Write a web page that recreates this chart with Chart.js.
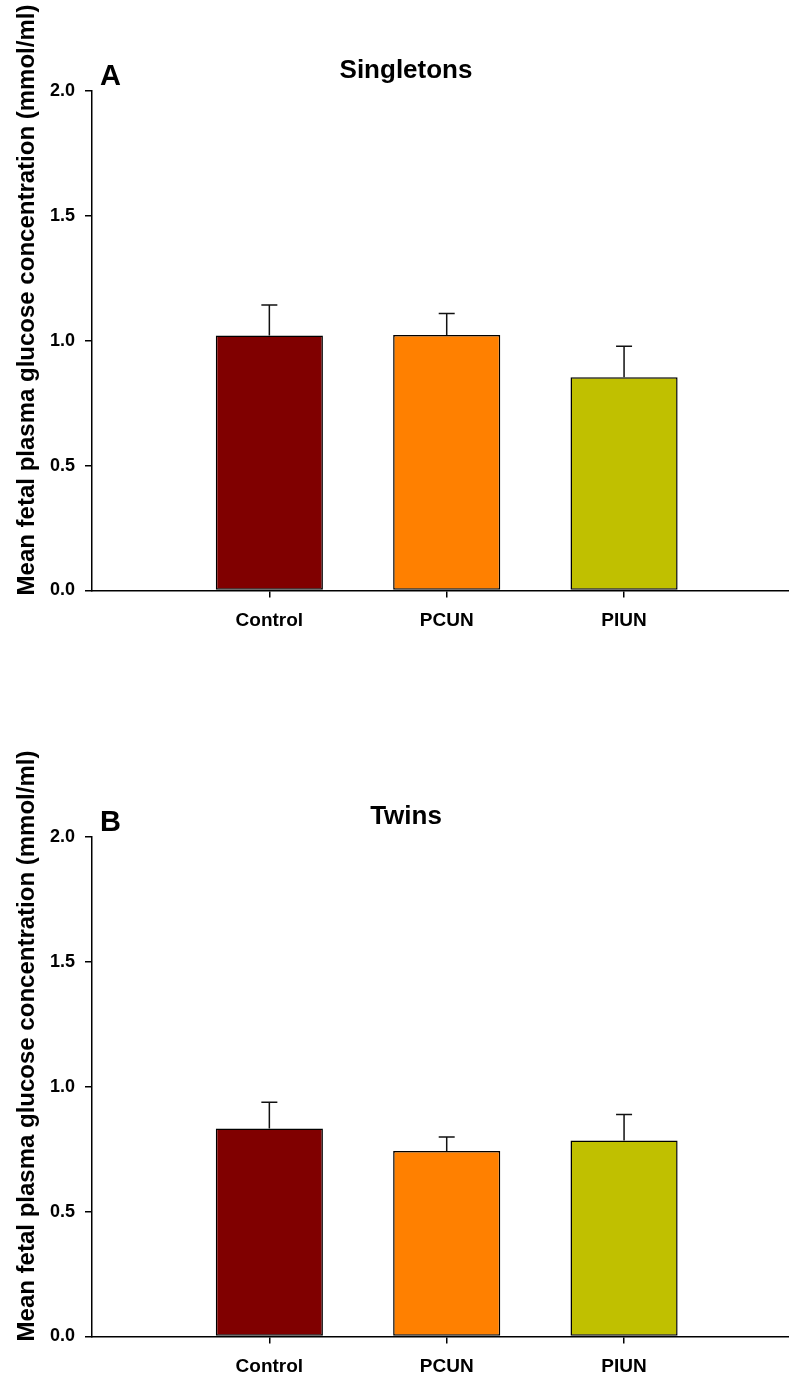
<!DOCTYPE html>
<html>
<head>
<meta charset="utf-8">
<title>Mean fetal plasma glucose concentration</title>
<script src="https://cdn.jsdelivr.net/npm/chart.js@4.4.1/dist/chart.umd.min.js"></script>
<style>
  html, body { margin: 0; padding: 0; background: #fff; }
  canvas { display: block; }
</style>
</head>
<body>
<canvas id="singletons" width="789" height="688"></canvas>
<canvas id="twins" width="789" height="688"></canvas>
<script>
// Treatment groups and their colours
const categories = ['Control', 'PCUN', 'PIUN'];
const groupColors = ['#800000', '#FF8000', '#C0C000'];

// Panel A: singletons (mean and SEM, mmol/ml)
const singletonMeans = [1.02, 1.022, 0.853];
const singletonSEM = [0.122, 0.086, 0.124];

// Panel B: twins (mean and SEM, mmol/ml)
const twinMeans = [0.832, 0.742, 0.784];
const twinSEM = [0.105, 0.056, 0.104];

// Y axis tick values
const yTicks = [0, 0.5, 1.0, 1.5, 2.0];

const yTitle = 'Mean fetal plasma glucose concentration (mmol/ml)';
const FONT = "Arial, 'Liberation Sans', sans-serif";

// Upper error whiskers with a cap
const errorBars = {
  id: 'errorBars',
  afterDatasetsDraw(chart, args, opts) {
    const ctx = chart.ctx;
    const y = chart.scales.y;
    const meta = chart.getDatasetMeta(0);
    const ds = chart.data.datasets[0];
    ctx.save();
    ctx.strokeStyle = '#111';
    ctx.lineWidth = 1.5;
    meta.data.forEach((bar, i) => {
      const v = ds.data[i].y;
      const top = y.getPixelForValue(v + opts.errors[i]);
      ctx.beginPath();
      ctx.moveTo(bar.x, bar.y);
      ctx.lineTo(bar.x, top);
      ctx.moveTo(bar.x - 8, top);
      ctx.lineTo(bar.x + 8, top);
      ctx.stroke();
    });
    ctx.restore();
  }
};

// Panel letter, panel title and rotated y-axis title
const panelText = {
  id: 'panelText',
  afterDraw(chart, args, opts) {
    const ctx = chart.ctx;
    const area = chart.chartArea;
    ctx.save();
    ctx.fillStyle = '#000';
    ctx.textBaseline = 'alphabetic';
    ctx.font = 'bold 29px ' + FONT;
    ctx.textAlign = 'left';
    ctx.fillText(opts.letter, 100, area.top - 5.5);
    ctx.font = 'bold 26px ' + FONT;
    ctx.textAlign = 'center';
    ctx.fillText(opts.title, 406, area.top - 12.5);
    ctx.translate(34, area.bottom - 290.5);
    ctx.rotate(-Math.PI / 2);
    ctx.font = 'bold 24px ' + FONT;
    ctx.fillText(yTitle, 0, 0);
    ctx.restore();
  }
};

function makeChart(id, letter, title, means, sems, topPad) {
  const xAxisHeight = 688 - topPad - 499.8;
  return new Chart(document.getElementById(id), {
    type: 'bar',
    data: {
      datasets: [{
        data: categories.map((c, i) => ({ x: i + 1, y: means[i] })),
        backgroundColor: groupColors,
        borderColor: '#000',
        borderWidth: 1.5,
        borderSkipped: false,
        categoryPercentage: 1,
        barPercentage: 0.604
      }]
    },
    options: {
      responsive: false,
      animation: false,
      devicePixelRatio: 1,
      layout: { padding: { top: topPad, left: 0, right: 0, bottom: 0 } },
      plugins: {
        legend: { display: false },
        tooltip: { enabled: false },
        errorBars: { errors: sems },
        panelText: { letter, title }
      },
      scales: {
        x: {
          type: 'linear',
          offset: false,
          min: 0,
          max: 3.93,
          afterBuildTicks(scale) {
            scale.ticks = categories.map((c, i) => ({ value: i + 1 }));
          },
          afterFit(scale) { scale.height = xAxisHeight; },
          ticks: {
            callback: (v) => categories[v - 1],
            color: '#000',
            font: { family: FONT, size: 19, weight: 'bold' },
            padding: 12,
            maxRotation: 0
          },
          grid: {
            offset: false,
            drawOnChartArea: false,
            drawTicks: true,
            tickLength: 7,
            color: '#000',
            lineWidth: 1.5
          },
          border: { display: true, color: '#000', width: 1.5 }
        },
        y: {
          min: 0,
          max: 2,
          afterBuildTicks(scale) {
            scale.ticks = yTicks.map(v => ({ value: v }));
          },
          afterFit(scale) { scale.width = 92; },
          ticks: {
            callback: (v) => v.toFixed(1),
            color: '#000',
            font: { family: FONT, size: 18, weight: 'bold' },
            padding: 10
          },
          grid: {
            drawOnChartArea: false,
            drawTicks: true,
            tickLength: 7,
            color: '#000',
            lineWidth: 1.5
          },
          border: { display: true, color: '#000', width: 1.5 }
        }
      }
    },
    plugins: [errorBars, panelText]
  });
}

makeChart('singletons', 'A', 'Singletons', singletonMeans, singletonSEM, 90.7);
makeChart('twins', 'B', 'Twins', twinMeans, twinSEM, 148.7);
</script>
</body>
</html>
